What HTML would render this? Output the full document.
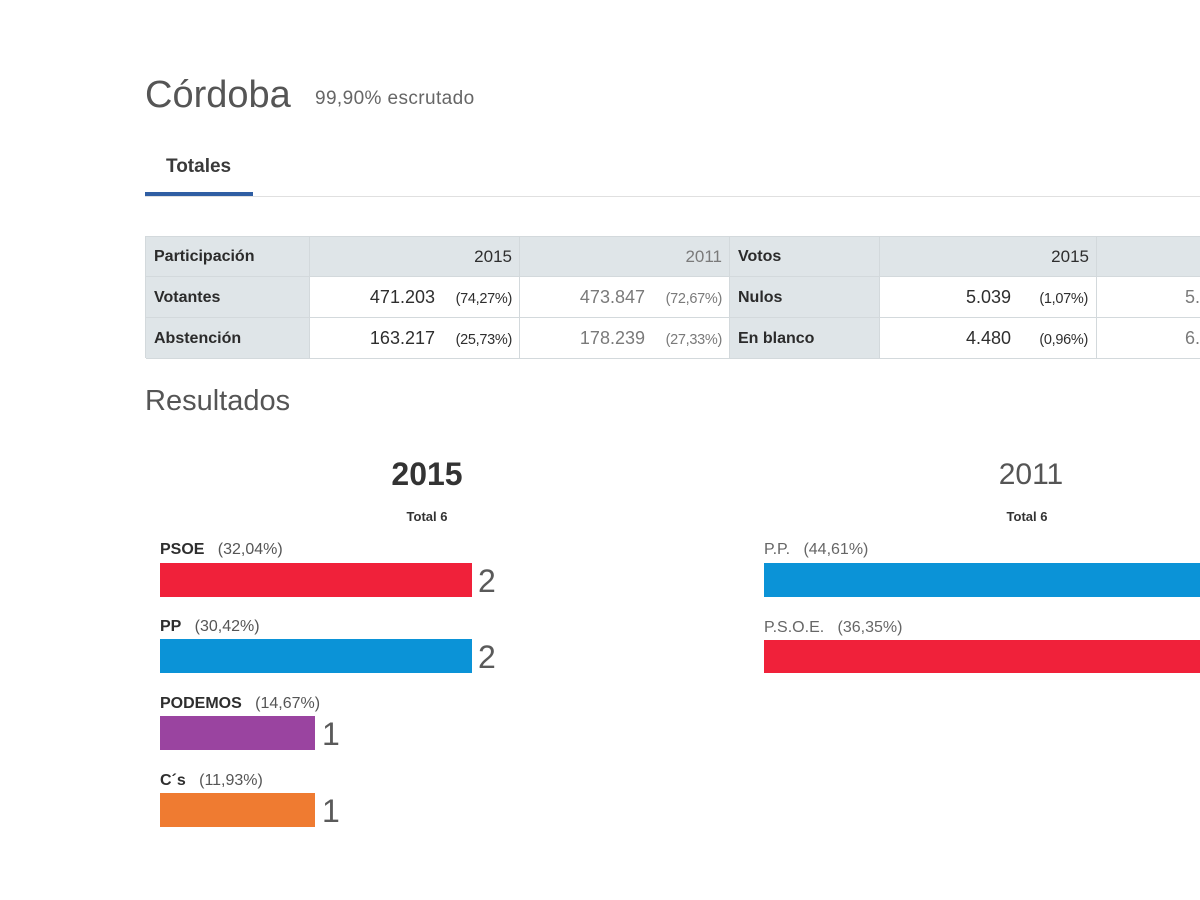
<!DOCTYPE html>
<html>
<head>
<meta charset="utf-8">
<style>
  html,body{margin:0;padding:0;background:#fff;}
  body{width:1200px;height:900px;overflow:hidden;position:relative;font-family:"Liberation Sans",Arial,sans-serif;}
  .a{position:absolute;white-space:nowrap;}
  .cell{position:absolute;box-sizing:border-box;height:41px;line-height:41px;border-right:1px solid #d3d9dc;border-bottom:1px solid #d3d9dc;font-size:16px;overflow:hidden;white-space:nowrap;}
  .lab{background:#dfe5e8;color:#2b2b2b;font-weight:bold;padding-left:8px;}
  .hd{background:#dfe5e8;text-align:right;padding-right:7px;}
  .dat{background:#fff;text-align:right;padding-right:7px;}
  .num{font-size:18px;}
  .pct{display:inline-block;width:62px;text-align:right;font-size:14.5px;margin-left:15px;letter-spacing:-0.3px;}
  .c15{color:#2e2e2e;}
  .c11{color:#7a7a7a;}
  .bar{position:absolute;height:34px;}
  .bl{position:absolute;font-size:16px;line-height:16px;white-space:nowrap;color:#555;}
  .bl b{color:#2e2e2e;}
  .bn{position:absolute;font-size:32px;line-height:34px;color:#5a5a5a;}
</style>
</head>
<body>
  <div class="a" style="left:145px;top:76px;font-size:38px;line-height:38px;color:#555;">Córdoba</div>
  <div class="a" style="left:315px;top:89px;font-size:19px;line-height:19px;color:#666;letter-spacing:0.4px;">99,90% escrutado</div>

  <div class="a" style="left:166px;top:157px;font-size:19px;line-height:19px;color:#3a3a3a;font-weight:bold;">Totales</div>
  <div class="a" style="left:145px;top:196px;width:1055px;height:1px;background:#e0e0e0;"></div>
  <div class="a" style="left:145px;top:192px;width:108px;height:4px;background:#2f5ea3;"></div>

  <!-- table -->
  <div class="a" style="left:145px;top:236px;width:1055px;height:1px;background:#d3d9dc;"></div>
  <div class="a" style="left:145px;top:236px;width:1px;height:122px;background:#d3d9dc;"></div>

  <!-- header row -->
  <div class="cell lab" style="left:146px;top:237px;width:164px;height:40px;line-height:40px;">Participación</div>
  <div class="cell hd c15" style="left:310px;top:237px;width:210px;height:40px;line-height:40px;font-size:17px;">2015</div>
  <div class="cell hd c11" style="left:520px;top:237px;width:210px;height:40px;line-height:40px;font-size:17px;">2011</div>
  <div class="cell lab" style="left:730px;top:237px;width:150px;height:40px;line-height:40px;">Votos</div>
  <div class="cell hd c15" style="left:880px;top:237px;width:217px;height:40px;line-height:40px;font-size:17px;">2015</div>
  <div class="cell hd" style="left:1097px;top:237px;width:103px;height:40px;line-height:40px;border-right:none;"></div>

  <!-- row 1 -->
  <div class="cell lab" style="left:146px;top:277px;width:164px;">Votantes</div>
  <div class="cell dat c15" style="left:310px;top:277px;width:210px;"><span class="num">471.203</span><span class="pct">(74,27%)</span></div>
  <div class="cell dat c11" style="left:520px;top:277px;width:210px;"><span class="num">473.847</span><span class="pct">(72,67%)</span></div>
  <div class="cell lab" style="left:730px;top:277px;width:150px;">Nulos</div>
  <div class="cell dat c15" style="left:880px;top:277px;width:217px;padding-right:8px;"><span class="num">5.039</span><span class="pct">(1,07%)</span></div>
  <div class="cell c11" style="left:1097px;top:277px;width:103px;border-right:none;background:#fff;padding-left:88px;"><span class="num">5.173</span></div>

  <!-- row 2 -->
  <div class="cell lab" style="left:146px;top:318px;width:164px;">Abstención</div>
  <div class="cell dat c15" style="left:310px;top:318px;width:210px;"><span class="num">163.217</span><span class="pct">(25,73%)</span></div>
  <div class="cell dat c11" style="left:520px;top:318px;width:210px;"><span class="num">178.239</span><span class="pct">(27,33%)</span></div>
  <div class="cell lab" style="left:730px;top:318px;width:150px;">En blanco</div>
  <div class="cell dat c15" style="left:880px;top:318px;width:217px;padding-right:8px;"><span class="num">4.480</span><span class="pct">(0,96%)</span></div>
  <div class="cell c11" style="left:1097px;top:318px;width:103px;border-right:none;background:#fff;padding-left:88px;"><span class="num">6.412</span></div>

  <!-- Resultados -->
  <div class="a" style="left:145px;top:387px;font-size:29px;line-height:29px;color:#555;">Resultados</div>

  <!-- 2015 chart -->
  <div class="a" style="left:327px;top:458px;width:200px;text-align:center;font-size:32px;line-height:32px;font-weight:bold;color:#333;">2015</div>
  <div class="a" style="left:327px;top:510px;width:200px;text-align:center;font-size:13px;line-height:13px;font-weight:bold;color:#333;">Total 6</div>

  <div class="bl" style="left:160px;top:542px;"><b>PSOE</b>&nbsp;&nbsp;&nbsp;(32,04%)</div>
  <div class="bar" style="left:160px;top:563px;width:312px;background:#f0213a;"></div>
  <div class="bn" style="left:478px;top:564px;">2</div>

  <div class="bl" style="left:160px;top:619px;"><b>PP</b>&nbsp;&nbsp;&nbsp;(30,42%)</div>
  <div class="bar" style="left:160px;top:639px;width:312px;background:#0b93d7;"></div>
  <div class="bn" style="left:478px;top:640px;">2</div>

  <div class="bl" style="left:160px;top:696px;"><b>PODEMOS</b>&nbsp;&nbsp;&nbsp;(14,67%)</div>
  <div class="bar" style="left:160px;top:716px;width:155px;background:#9a44a0;"></div>
  <div class="bn" style="left:322px;top:717px;">1</div>

  <div class="bl" style="left:160px;top:773px;"><b>C´s</b>&nbsp;&nbsp;&nbsp;(11,93%)</div>
  <div class="bar" style="left:160px;top:793px;width:155px;background:#ef7b31;"></div>
  <div class="bn" style="left:322px;top:794px;">1</div>

  <!-- 2011 chart -->
  <div class="a" style="left:931px;top:460px;width:200px;text-align:center;font-size:30px;line-height:30px;color:#555;">2011</div>
  <div class="a" style="left:927px;top:510px;width:200px;text-align:center;font-size:13px;line-height:13px;font-weight:bold;color:#333;">Total 6</div>

  <div class="bl" style="left:764px;top:542px;color:#666;">P.P.&nbsp;&nbsp;&nbsp;(44,61%)</div>
  <div class="bar" style="left:764px;top:563px;width:436px;background:#0b93d7;"></div>

  <div class="bl" style="left:764px;top:620px;color:#666;">P.S.O.E.&nbsp;&nbsp;&nbsp;(36,35%)</div>
  <div class="bar" style="left:764px;top:640px;width:436px;height:33px;background:#f0213a;"></div>
</body>
</html>
